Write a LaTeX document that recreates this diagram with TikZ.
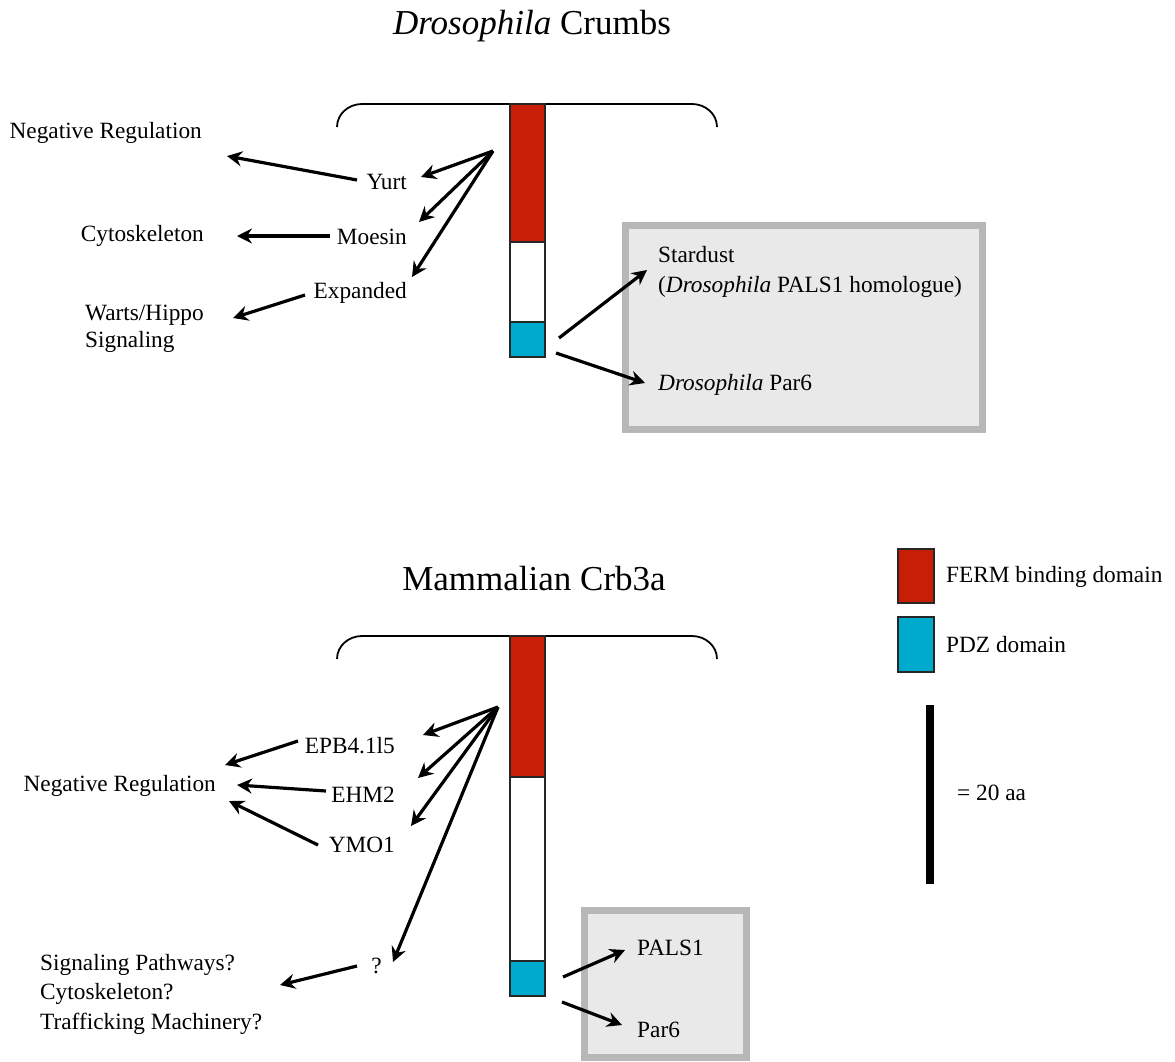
\documentclass[tikz,border=0pt]{standalone}
\usepackage{fontspec}
\setmainfont{Liberation Serif}
\usetikzlibrary{arrows.meta}
\definecolor{ferm}{RGB}{200,30,5}
\definecolor{pdz}{RGB}{0,170,204}
\definecolor{boxfill}{RGB}{233,233,233}
\definecolor{boxedge}{RGB}{183,183,183}
\begin{document}
\begin{tikzpicture}[x=1pt,y=-1pt,
  lbl/.style={inner sep=0pt, font=\fontsize{23.3}{28}\selectfont},
  ttl/.style={inner sep=0pt, font=\fontsize{35}{42}\selectfont},
  arr/.style={line width=3.2pt, -{Stealth[length=15pt,width=15pt,inset=5pt]}},
  bracket/.style={line width=1.8pt},
  seg/.style={draw=black!85, line width=1.5pt},
  grp/.style={draw=boxedge, fill=boxfill, line width=7pt},
  scalebar/.style={line width=8pt}
]
\useasboundingbox (0,0) rectangle (1175,1061);

% ---------------- top: Drosophila Crumbs ----------------
\node[ttl, anchor=base] (ttlA) at (532,34) {\textit{Drosophila} Crumbs};
\draw[bracket] (337,127) to[out=90,in=180] (362,104) -- (692,104) to[out=0,in=90] (717,127);
\draw[grp] (625.5,225.5) rectangle (982.5,429.5);
\draw[seg, fill=ferm] (510,104) rectangle (545,242);
\draw[seg, fill=white] (510,242) rectangle (545,322);
\draw[seg, fill=pdz] (510,322) rectangle (545,357);

\node[lbl, anchor=east] (yurt) at (407,182) {Yurt};
\node[lbl, anchor=east] (moesin) at (407,237) {Moesin};
\node[lbl, anchor=east] (expanded) at (407,293) {Expanded};
\node[lbl, anchor=east] (negA) at (202,133) {Negative Regulation};
\node[lbl, anchor=east] (cyto) at (204,236) {Cytoskeleton};
\node[lbl, anchor=west, align=left, font=\fontsize{23.3}{27}\selectfont] (warts) at (85,329) {Warts/Hippo\\Signaling};
\node[lbl, anchor=west, align=left, font=\fontsize{23.3}{30}\selectfont] (stardust) at (658,272) {Stardust\\(\textit{Drosophila} PALS1 homologue)};
\node[lbl, anchor=west] (par6A) at (658,385) {\textit{Drosophila} Par6};

\coordinate (hubA) at (493,151);
\coordinate (yurtTip) at (421,177);
\coordinate (moesinTip) at (419,222);
\coordinate (expTip) at (412,277);
\draw[arr] (hubA) -- (yurtTip);
\draw[arr] (hubA) -- (moesinTip);
\draw[arr] (hubA) -- (expTip);

\coordinate (yurtOut) at (357,180);
\coordinate (negATip) at (227,156);
\coordinate (moesinOut) at (330,236);
\coordinate (cytoTip) at (237,236);
\coordinate (expOut) at (305,295);
\coordinate (wartsTip) at (233,318);
\draw[arr] (yurtOut) -- (negATip);
\draw[arr] (moesinOut) -- (cytoTip);
\draw[arr] (expOut) -- (wartsTip);

\coordinate (pdzAout1) at (559,338);
\coordinate (stardustTip) at (647,270);
\coordinate (pdzAout2) at (556,353);
\coordinate (par6ATip) at (645,383);
\draw[arr] (pdzAout1) -- (stardustTip);
\draw[arr] (pdzAout2) -- (par6ATip);

% ---------------- bottom: Mammalian Crb3a ----------------
\node[ttl, anchor=base] (ttlB) at (534,590) {Mammalian Crb3a};
\draw[bracket] (337,659) to[out=90,in=180] (362,636) -- (692,636) to[out=0,in=90] (717,659);
\draw[grp] (584.5,910.5) rectangle (746.5,1057);
\draw[seg, fill=ferm] (510,636) rectangle (545,777);
\draw[seg, fill=white] (510,777) rectangle (545,961);
\draw[seg, fill=pdz] (510,961) rectangle (545,996);

\node[lbl, anchor=east] (epb) at (395,746) {EPB4.1l5};
\node[lbl, anchor=east] (ehm) at (395,795) {EHM2};
\node[lbl, anchor=east] (ymo) at (395,845) {YMO1};
\node[lbl, anchor=east] (qm) at (382,966) {?};
\node[lbl, anchor=east] (negB) at (216,786) {Negative Regulation};
\node[lbl, anchor=west, align=left, font=\fontsize{23.3}{29.5}\selectfont] (sig) at (40,994) {Signaling Pathways?\\Cytoskeleton?\\Trafficking Machinery?};
\node[lbl, anchor=west] (pals) at (637,948) {PALS1};
\node[lbl, anchor=west] (par6B) at (637,1030) {Par6};

\coordinate (hubB) at (498,707);
\coordinate (epbTip) at (423,735);
\coordinate (ehmTip) at (418,778);
\coordinate (ymoTip) at (411,826);
\coordinate (qTip) at (393,962);
\draw[arr] (hubB) -- (epbTip);
\draw[arr] (hubB) -- (ehmTip);
\draw[arr] (hubB) -- (ymoTip);
\draw[arr] (hubB) -- (qTip);

\coordinate (epbOut) at (298,741);
\coordinate (negBTip1) at (225,765);
\coordinate (ehmOut) at (326,791);
\coordinate (negBTip2) at (237,785);
\coordinate (ymoOut) at (318,845);
\coordinate (negBTip3) at (229,801);
\coordinate (qOut) at (357,966);
\coordinate (sigTip) at (280,985);
\draw[arr] (epbOut) -- (negBTip1);
\draw[arr] (ehmOut) -- (negBTip2);
\draw[arr] (ymoOut) -- (negBTip3);
\draw[arr] (qOut) -- (sigTip);

\coordinate (pdzBout1) at (563,977);
\coordinate (palsTip) at (625,950);
\coordinate (pdzBout2) at (562,1002);
\coordinate (par6BTip) at (622,1025);
\draw[arr] (pdzBout1) -- (palsTip);
\draw[arr] (pdzBout2) -- (par6BTip);

% ---------------- legend ----------------
\draw[seg, fill=ferm] (898,549) rectangle (934,603);
\node[lbl, anchor=west] (fermL) at (946,577) {FERM binding domain};
\draw[seg, fill=pdz] (898,617) rectangle (934,672);
\node[lbl, anchor=west] (pdzL) at (946,645) {PDZ domain};
\coordinate (barTop) at (929.5,705);
\coordinate (barBot) at (929.5,884);
\draw[scalebar] (barTop) -- (barBot);
\node[lbl, anchor=west] (scaleL) at (957,793) {= 20 aa};
\end{tikzpicture}
\end{document}
